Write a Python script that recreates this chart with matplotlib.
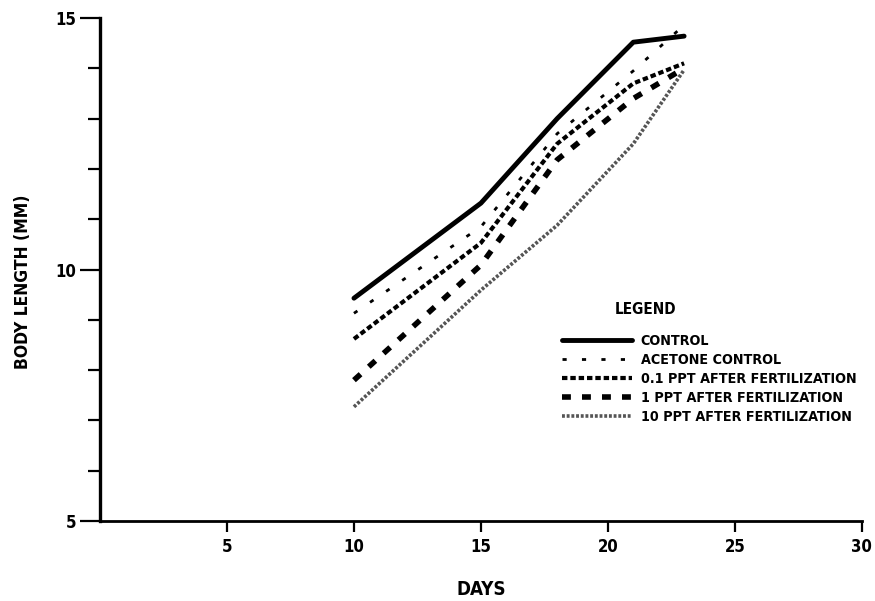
import matplotlib
matplotlib.use("Agg")
import matplotlib.pyplot as plt
from matplotlib.ticker import MultipleLocator

plt.rcParams['font.family'] = ['DejaVu Sans']
plt.rcParams['font.stretch'] = 'condensed'

days = [10, 15, 18, 21, 23]
control = [9.43, 11.32, 13.00, 14.52, 14.64]
acetone = [9.13, 10.85, 12.70, 13.95, 14.86]
ppt01 = [8.62, 10.53, 12.50, 13.70, 14.10]
ppt1 = [7.80, 10.09, 12.18, 13.40, 14.00]
ppt10 = [7.27, 9.59, 10.88, 12.50, 13.97]

labels = ["CONTROL", "ACETONE CONTROL", "0.1 PPT AFTER FERTILIZATION",
          "1 PPT AFTER FERTILIZATION", "10 PPT AFTER FERTILIZATION"]
x_ticks = [5, 10, 15, 20, 25, 30]
y_ticks = [5, 10, 15]

fig = plt.figure(figsize=(8.75, 6.01), dpi=100)
ax = fig.add_axes([0.1143, 0.1331, 0.985 - 0.1143, 0.970 - 0.1331])

ax.plot(days, control, color='black', lw=3.5, ls='-', solid_capstyle='round', label=labels[0])
ax.plot(days, acetone, color='black', lw=2.0, ls=(0, (1.5, 5.5)), label=labels[1])
ax.plot(days, ppt01, color='black', lw=3.0, ls=(0, (1.3, 0.7)), label=labels[2])
ax.plot(days, ppt1, color='black', lw=4.0, ls=(0, (1.6, 2.0)), label=labels[3])
ax.plot(days, ppt10, color='#555555', lw=2.6, ls=(0, (0.8, 0.5)), label=labels[4])

ax.set_xlim(0, 30)
ax.set_ylim(5, 15)
for s in ['top', 'right']:
    ax.spines[s].set_visible(False)
ax.spines['left'].set_linewidth(2.4)
ax.spines['bottom'].set_linewidth(2.0)

ax.set_xticks(x_ticks)
ax.set_yticks(y_ticks)
ax.yaxis.set_minor_locator(MultipleLocator(1))
ax.tick_params(axis='y', which='major', length=14.4, width=1.6, labelsize=12, pad=3)
ax.tick_params(axis='y', which='minor', length=8.6, width=1.6)
ax.tick_params(axis='x', which='major', length=8, width=1.6, labelsize=12, pad=4.5)
for t in ax.get_xticklabels() + ax.get_yticklabels():
    t.set_fontweight('bold')

ax.set_xlabel("DAYS", fontsize=13.5, fontweight='bold', va='center')
ax.xaxis.set_label_coords(0.5, (521 - 589) / 503)
ax.set_ylabel("BODY LENGTH (MM)", fontsize=12.5, fontweight='bold', va='center')
ax.yaxis.set_label_coords(-(100 - 23) / 762, 0.475)

ax.text(0.7165, 0.4215, "LEGEND", transform=ax.transAxes, ha='center', va='center',
        fontsize=11, fontweight='bold')
leg = ax.legend(loc='upper left', bbox_to_anchor=(0.606, 0.372), frameon=False,
                fontsize=10.3, handlelength=4.9, handletextpad=0.62,
                labelspacing=0.36, borderaxespad=0, borderpad=0)
for t in leg.get_texts():
    t.set_fontweight('bold')

fig.savefig("out.png", dpi=100)
